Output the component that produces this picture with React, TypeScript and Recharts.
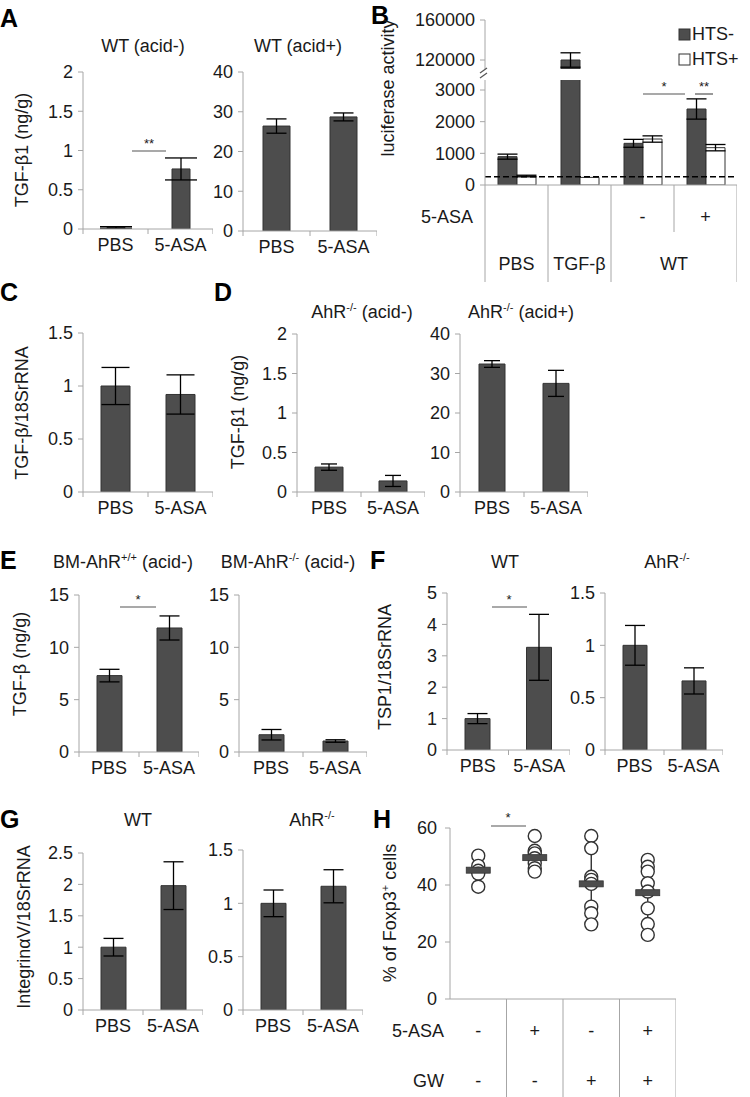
import React from 'react';
import { BarChart, Bar, XAxis, YAxis, ErrorBar, ReferenceLine, ScatterChart, Scatter } from 'recharts';

const FONT = '"Liberation Sans", Arial, Helvetica, sans-serif';
const AXIS = '#a6a6a6';
const BAR = '#4d4d4d';
const BAR_EDGE = '#333333';
const TXT = '#1a1a1a';

// ---------- data ----------
const cats = ['PBS', '5-ASA'];

const aLeftVals = [0.02, 0.765];
const aLeftErr = [0.01, 0.14];
const aRightVals = [26.4, 28.7];
const aRightErr = [1.8, 1.0];

const cVals = [1.0, 0.92];
const cErr = [0.175, 0.185];

const dLeftVals = [0.315, 0.14];
const dLeftErr = [0.04, 0.07];
const dRightVals = [32.4, 27.5];
const dRightErr = [0.85, 3.3];

const eLeftVals = [7.3, 11.85];
const eLeftErr = [0.6, 1.15];
const eRightVals = [1.65, 1.05];
const eRightErr = [0.5, 0.12];

const fLeftVals = [1.0, 3.27];
const fLeftErr = [0.16, 1.05];
const fRightVals = [1.0, 0.66];
const fRightErr = [0.19, 0.125];

const gLeftVals = [1.0, 1.98];
const gLeftErr = [0.14, 0.38];
const gRightVals = [1.0, 1.16];
const gRightErr = [0.125, 0.155];

// panel B
const bCats = ['PBS', 'TGF-β', 'WT-', 'WT+'];
const bAsaSigns = ['', '', '-', '+'];
const bGroupLabels = ['PBS', 'TGF-β', '', 'WT'];
const bHtsMinus = [895, 120000, 1316, 2400];
const bHtsMinusErr = [80, 7200, 125, 320];
const bHtsPlus = [284, 240, 1452, 1179];
const bHtsPlusErr = [25, 0, 100, 100];
const bBackground = 260;
const bLowerMax = 3316;
const bUpperMin = 111000;
const bUpperMax = 160000;
const bLowerTicks = [0, 1000, 2000, 3000];
const bUpperTicks = [120000, 160000];

// panel H
const hAsaSigns = ['-', '+', '-', '+'];
const hGwSigns = ['-', '-', '+', '+'];
const hGroup1 = [50.3, 46.7, 45.0, 44.0, 39.4];
const hGroup2 = [57.2, 52.0, 51.1, 49.4, 47.6, 45.9, 44.7];
const hGroup3 = [57.2, 52.9, 42.9, 41.8, 40.4, 32.4, 30.1, 26.2];
const hGroup4 = [48.8, 46.4, 44.7, 40.6, 37.7, 31.8, 26.3, 22.5];
const hMeans = [45.2, 49.6, 40.4, 37.3];
const hSd = [3.8, 4.2, 10.6, 9.3];
const hTicks = [0, 20, 40, 60];

// ---------- helpers ----------
const tickStyle = { fontSize: 18, fill: TXT, fontFamily: FONT };

function makeCatTick(band: number) {
  return (p: any) => {
    const { x, y, payload, index } = p;
    return (
      <g>
        {index === 0 && <line x1={x - band / 2} x2={x - band / 2} y1={y} y2={y + 5} stroke={AXIS} />}
        <line x1={x + band / 2} x2={x + band / 2} y1={y} y2={y + 5} stroke={AXIS} />
        <text x={x} y={y + 22} textAnchor="middle" fontSize={18} fill={TXT} fontFamily={FONT}>
          {payload.value}
        </text>
      </g>
    );
  };
}

type PanelProps = {
  x0: number; x1: number; yTop: number; yZero: number;
  max: number; ticks: number[]; values: number[]; errors: number[];
  barSize: number; cap: number;
};

function TwoBarPanel({ x0, x1, yTop, yZero, max, ticks, values, errors, barSize, cap }: PanelProps) {
  const YW = 50, MT = 10, XH = 40;
  const data = cats.map((c, i) => ({ cat: c, v: values[i], e: errors[i] }));
  const band = (x1 - x0) / cats.length;
  return (
    <div style={{ position: 'absolute', left: x0 - YW, top: yTop - MT }}>
      <BarChart width={x1 - x0 + YW} height={yZero - yTop + MT + XH} data={data}
        margin={{ top: MT, right: 0, bottom: 0, left: 0 }} style={{ overflow: 'visible' }}>
        <XAxis dataKey="cat" height={XH} interval={0} axisLine={{ stroke: AXIS }} tickLine={false}
          tickSize={0} tickMargin={0} tick={makeCatTick(band)} />
        <YAxis type="number" domain={[0, max]} ticks={ticks} interval={0} width={YW} tickSize={5}
          tickMargin={5} axisLine={{ stroke: AXIS }} tickLine={{ stroke: AXIS }} tick={tickStyle} allowDataOverflow />
        <Bar dataKey="v" fill={BAR} stroke={BAR_EDGE} strokeWidth={1} barSize={barSize} isAnimationActive={false}>
          <ErrorBar dataKey="e" direction="y" width={cap} stroke="#000" strokeWidth={1.3} />
        </Bar>
      </BarChart>
    </div>
  );
}

// ---------- panel B ----------
function PanelB() {
  const x0 = 485, x1 = 737;
  const YW = 75, MT = 10;
  const band = (x1 - x0) / bCats.length;
  const lowTop = 80, lowZero = 185, XH = 100;
  const upTop = 20, upBottom = 69;

  const lowData = bCats.map((c, i) => ({
    cat: c,
    m: bHtsMinus[i],
    me: bHtsMinus[i] > bLowerMax ? null : bHtsMinusErr[i],
    p: bHtsPlus[i],
    pe: bHtsPlusErr[i] > 0 ? bHtsPlusErr[i] : null,
  }));
  const upData = bCats.map((c, i) => ({
    cat: c,
    m: bHtsMinus[i] > bLowerMax ? bHtsMinus[i] : null,
    me: bHtsMinus[i] > bLowerMax ? bHtsMinusErr[i] : null,
    p: null,
  }));

  const tableTick = (p: any) => {
    const { x, y, index } = p;
    const right = x + band / 2;
    const longLen = 97;
    return (
      <g>
        {index === 0 && <line x1={x - band / 2} x2={x - band / 2} y1={y} y2={y + longLen} stroke={AXIS} />}
        {index === 0 && (
          <text x={x - band / 2 - 12} y={y + 38} textAnchor="end" fontSize={18} fill={TXT} fontFamily={FONT}>5-ASA</text>
        )}
        <line x1={right} x2={right} y1={y} y2={y + (index === 2 ? 47 : longLen)} stroke={AXIS} />
        {bAsaSigns[index] && (
          <text x={x} y={y + 38} textAnchor="middle" fontSize={18} fill={TXT} fontFamily={FONT}>{bAsaSigns[index]}</text>
        )}
        {bGroupLabels[index] && (
          <text x={index === 3 ? x - band / 2 : x} y={y + 85} textAnchor="middle" fontSize={18} fill={TXT} fontFamily={FONT}>
            {bGroupLabels[index]}
          </text>
        )}
      </g>
    );
  };

  return (
    <>
      <div style={{ position: 'absolute', left: x0 - YW, top: upTop - MT }}>
        <BarChart width={x1 - x0 + YW} height={upBottom - upTop + MT} data={upData}
          margin={{ top: MT, right: 0, bottom: 0, left: 0 }} barGap={0}>
          <XAxis dataKey="cat" hide />
          <YAxis type="number" domain={[bUpperMin, bUpperMax]} ticks={bUpperTicks} interval={0} width={YW}
            tickSize={5} tickMargin={5} axisLine={{ stroke: AXIS }} tickLine={{ stroke: AXIS }} tick={tickStyle} allowDataOverflow />
          <Bar dataKey="m" fill={BAR} stroke={BAR_EDGE} barSize={19} isAnimationActive={false}>
            <ErrorBar dataKey="me" direction="y" width={10} stroke="#000" strokeWidth={1.3} />
          </Bar>
          <Bar dataKey="p" fill="#fff" stroke={BAR_EDGE} barSize={19} isAnimationActive={false} />
        </BarChart>
      </div>
      <div style={{ position: 'absolute', left: x0 - YW, top: lowTop - MT }}>
        <BarChart width={x1 - x0 + YW} height={lowZero - lowTop + MT + XH} data={lowData}
          margin={{ top: MT, right: 0, bottom: 0, left: 0 }} barGap={0}>
          <XAxis dataKey="cat" height={XH} interval={0} axisLine={{ stroke: AXIS }} tickLine={false}
            tickSize={0} tickMargin={0} tick={tableTick} />
          <YAxis type="number" domain={[0, bLowerMax]} ticks={bLowerTicks} interval={0} width={YW}
            tickSize={5} tickMargin={5} axisLine={{ stroke: AXIS }} tickLine={{ stroke: AXIS }} tick={tickStyle} allowDataOverflow />
          <Bar dataKey="m" fill={BAR} stroke={BAR_EDGE} barSize={19} isAnimationActive={false}>
            <ErrorBar dataKey="me" direction="y" width={10} stroke="#000" strokeWidth={1.3} />
          </Bar>
          <Bar dataKey="p" fill="#fff" stroke={BAR_EDGE} barSize={19} isAnimationActive={false}>
            <ErrorBar dataKey="pe" direction="y" width={10} stroke="#000" strokeWidth={1.3} />
          </Bar>
          <ReferenceLine y={bBackground} stroke="#000" strokeDasharray="6 3" strokeWidth={1.5} />
        </BarChart>
      </div>
    </>
  );
}

// ---------- panel H ----------
function PanelH() {
  const x0 = 450, x1 = 676, yTop = 828, yZero = 999;
  const YW = 75, MT = 10, XH = 98;
  const band = (x1 - x0) / 4;
  const groups = [hGroup1, hGroup2, hGroup3, hGroup4];
  const points = groups.flatMap((g, i) => g.map((v) => ({ x: i, y: v })));
  const means = hMeans.map((m, i) => ({ x: i, y: m, e: hSd[i] }));

  const tableTick = (p: any) => {
    const { x, y, index } = p;
    return (
      <g>
        <line x1={x + band / 2} x2={x + band / 2} y1={y} y2={y + XH} stroke={AXIS} />
        {index === 0 && (
          <>
            <text x={x - band / 2 - 6} y={y + 38} textAnchor="end" fontSize={18} fill={TXT} fontFamily={FONT}>5-ASA</text>
            <text x={x - band / 2 - 6} y={y + 88} textAnchor="end" fontSize={18} fill={TXT} fontFamily={FONT}>GW</text>
          </>
        )}
        <text x={x} y={y + 38} textAnchor="middle" fontSize={18} fill={TXT} fontFamily={FONT}>{hAsaSigns[index]}</text>
        <text x={x} y={y + 88} textAnchor="middle" fontSize={18} fill={TXT} fontFamily={FONT}>{hGwSigns[index]}</text>
      </g>
    );
  };

  const circle = (p: any) => (
    <circle cx={p.cx} cy={p.cy} r={6.5} fill="#fff" stroke="#333" strokeWidth={1.4} />
  );
  const meanMark = (p: any) => (
    <rect x={p.cx - 12} y={p.cy - 3} width={24} height={6} fill="#4d4d4d" stroke="#333" strokeWidth={0.8} />
  );

  return (
    <div style={{ position: 'absolute', left: x0 - YW, top: yTop - MT }}>
      <ScatterChart width={x1 - x0 + YW} height={yZero - yTop + MT + XH}
        margin={{ top: MT, right: 0, bottom: 0, left: 0 }}>
        <XAxis type="number" dataKey="x" domain={[-0.5, 3.5]} ticks={[0, 1, 2, 3]} interval={0} height={XH}
          axisLine={{ stroke: AXIS }} tickLine={false} tickSize={0} tickMargin={0} tick={tableTick} allowDataOverflow />
        <YAxis type="number" dataKey="y" domain={[0, 60]} ticks={hTicks} interval={0} width={YW} tickSize={5}
          tickMargin={8} axisLine={{ stroke: AXIS }} tickLine={{ stroke: AXIS }} tick={tickStyle} allowDataOverflow />
        <Scatter data={points} shape={circle} isAnimationActive={false} />
        <Scatter data={means} shape={meanMark} isAnimationActive={false}>
          <ErrorBar dataKey="e" direction="y" width={0} stroke="#222" strokeWidth={1.3} />
        </Scatter>
      </ScatterChart>
    </div>
  );
}

// ---------- overlay text ----------
function Overlay() {
  const letter = { fontSize: 25, fontWeight: 700 as const, fill: '#000', fontFamily: FONT };
  const t = { fontSize: 18, fill: TXT, fontFamily: FONT };
  const sig = { stroke: '#555', strokeWidth: 1.2 };
  const star = { fontSize: 13, fill: TXT, fontFamily: FONT };
  const vlabel = (x: number, y: number, content: React.ReactNode) => (
    <text transform={`translate(${x},${y}) rotate(-90)`} textAnchor="middle" {...t}>{content}</text>
  );
  const sup = (s: string, after: string) => (
    <>
      <tspan dy={-7} fontSize={11}>{s}</tspan>
      <tspan dy={7}>{after}</tspan>
    </>
  );
  return (
    <svg width={750} height={1097} style={{ position: 'absolute', left: 0, top: 0, pointerEvents: 'none' }}>
      {/* letters */}
      <text x={0} y={27} {...letter}>A</text>
      <text x={371} y={24} {...letter}>B</text>
      <text x={0} y={301} {...letter}>C</text>
      <text x={214} y={301} {...letter}>D</text>
      <text x={0} y={569} {...letter}>E</text>
      <text x={370} y={569} {...letter}>F</text>
      <text x={0} y={828} {...letter}>G</text>
      <text x={373} y={828} {...letter}>H</text>

      {/* titles */}
      <text x={143} y={52} textAnchor="middle" {...t}>WT (acid-)</text>
      <text x={298} y={52} textAnchor="middle" {...t}>WT (acid+)</text>
      <text x={362} y={318} textAnchor="middle" {...t}>AhR{sup('-/-', ' (acid-)')}</text>
      <text x={521} y={318} textAnchor="middle" {...t}>AhR{sup('-/-', ' (acid+)')}</text>
      <text x={123} y={568} textAnchor="middle" {...t}>BM-AhR{sup('+/+', ' (acid-)')}</text>
      <text x={288} y={568} textAnchor="middle" {...t}>BM-AhR{sup('-/-', ' (acid-)')}</text>
      <text x={505} y={568} textAnchor="middle" {...t}>WT</text>
      <text x={667} y={568} textAnchor="middle" {...t}>AhR{sup('-/-', '')}</text>
      <text x={138} y={826} textAnchor="middle" {...t}>WT</text>
      <text x={312} y={826} textAnchor="middle" {...t}>AhR{sup('-/-', '')}</text>

      {/* axis titles */}
      {vlabel(28, 150, 'TGF-β1 (ng/g)')}
      {vlabel(394, 88, 'luciferase activity')}
      {vlabel(28, 413, 'TGF-β/18SrRNA')}
      {vlabel(244, 412, 'TGF-β1 (ng/g)')}
      {vlabel(26, 664, 'TGF-β (ng/g)')}
      {vlabel(391, 667, 'TSP1/18SrRNA')}
      {vlabel(30, 927, 'IntegrinαV/18SrRNA')}
      {vlabel(396, 913, <>% of Foxp3<tspan dy={-7} fontSize={11}>+</tspan><tspan dy={7}> cells</tspan></>)}

      {/* B legend */}
      <rect x={679} y={29} width={11} height={11} fill={BAR} stroke={BAR_EDGE} />
      <text x={692} y={40} {...t}>HTS-</text>
      <rect x={679} y={54} width={11} height={11} fill="#fff" stroke="#333" />
      <text x={692} y={65} {...t}>HTS+</text>

      {/* B axis break */}
      <line x1={480} y1={73} x2={487} y2={68} stroke="#555" strokeWidth={1.2} />
      <line x1={480} y1={78} x2={487} y2={73} stroke="#555" strokeWidth={1.2} />

      {/* significance */}
      <line x1={132} x2={166} y1={151} y2={151} {...sig} />
      <text x={149} y={148} textAnchor="middle" {...star}>**</text>
      <line x1={643} x2={685} y1={94} y2={94} {...sig} />
      <text x={664} y={91} textAnchor="middle" {...star}>*</text>
      <line x1={695} x2={713} y1={94} y2={94} {...sig} />
      <text x={704} y={91} textAnchor="middle" {...star}>**</text>
      <line x1={120} x2={156} y1={607} y2={607} {...sig} />
      <text x={138} y={604} textAnchor="middle" {...star}>*</text>
      <line x1={492} x2={527} y1={607} y2={607} {...sig} />
      <text x={509} y={604} textAnchor="middle" {...star}>*</text>
      <line x1={491} x2={526} y1={826} y2={826} {...sig} />
      <text x={508} y={822} textAnchor="middle" {...star}>*</text>
    </svg>
  );
}

export default function App() {
  return (
    <div style={{ position: 'absolute', left: 0, top: 0, width: 750, height: 1097, background: '#fff', overflow: 'hidden', fontFamily: FONT }}>
      <TwoBarPanel x0={83} x1={213} yTop={72} yZero={229} max={2} ticks={[0, 0.5, 1, 1.5, 2]}
        values={aLeftVals} errors={aLeftErr} barSize={18} cap={16} />
      <TwoBarPanel x0={243} x1={377} yTop={72} yZero={231} max={40} ticks={[0, 10, 20, 30, 40]}
        values={aRightVals} errors={aRightErr} barSize={27} cap={10} />
      <PanelB />
      <TwoBarPanel x0={83} x1={213} yTop={333} yZero={492} max={1.5} ticks={[0, 0.5, 1, 1.5]}
        values={cVals} errors={cErr} barSize={29} cap={14} />
      <TwoBarPanel x0={297} x1={425} yTop={334} yZero={492} max={2} ticks={[0, 0.5, 1, 1.5, 2]}
        values={dLeftVals} errors={dLeftErr} barSize={28} cap={8} />
      <TwoBarPanel x0={460} x1={588} yTop={334} yZero={492} max={40} ticks={[0, 10, 20, 30, 40]}
        values={dRightVals} errors={dRightErr} barSize={26} cap={8} />
      <TwoBarPanel x0={79} x1={199} yTop={595} yZero={752} max={15} ticks={[0, 5, 10, 15]}
        values={eLeftVals} errors={eLeftErr} barSize={25} cap={10} />
      <TwoBarPanel x0={239} x1={367} yTop={595} yZero={752} max={15} ticks={[0, 5, 10, 15]}
        values={eRightVals} errors={eRightErr} barSize={25} cap={10} />
      <TwoBarPanel x0={447} x1={570} yTop={593} yZero={750} max={5} ticks={[0, 1, 2, 3, 4, 5]}
        values={fLeftVals} errors={fLeftErr} barSize={25} cap={10} />
      <TwoBarPanel x0={605} x1={723} yTop={593} yZero={750} max={1.5} ticks={[0, 0.5, 1, 1.5]}
        values={fRightVals} errors={fRightErr} barSize={24} cap={10} />
      <TwoBarPanel x0={83} x1={203} yTop={853} yZero={1010} max={2.5} ticks={[0, 0.5, 1, 1.5, 2, 2.5]}
        values={gLeftVals} errors={gLeftErr} barSize={25} cap={10} />
      <TwoBarPanel x0={243} x1={363} yTop={850} yZero={1010} max={1.5} ticks={[0, 0.5, 1, 1.5]}
        values={gRightVals} errors={gRightErr} barSize={25} cap={10} />
      <PanelH />
      <Overlay />
    </div>
  );
}
